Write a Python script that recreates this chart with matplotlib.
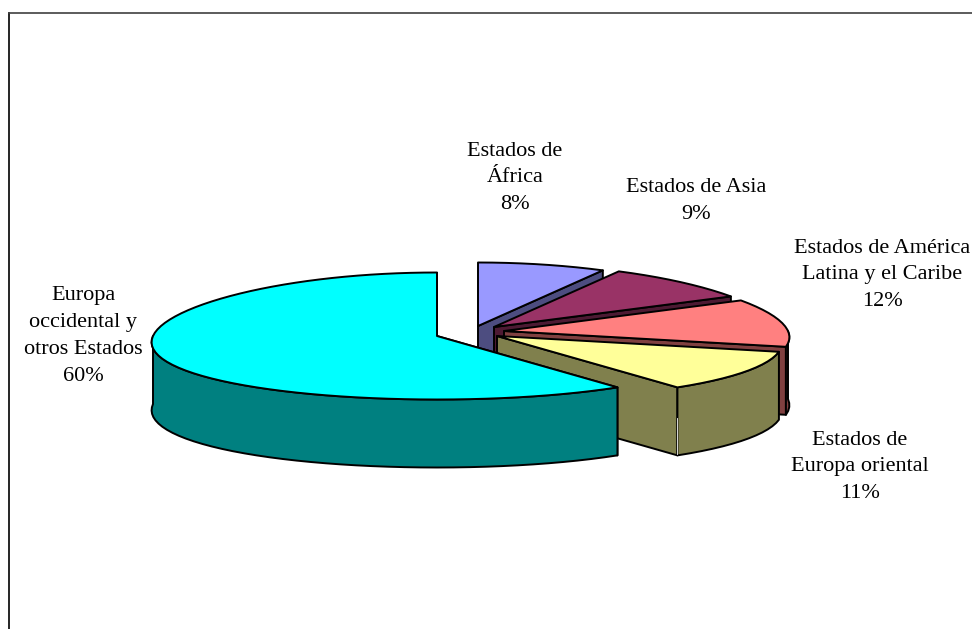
# 3d looking exploded pie chart, drawn by hand since matplotlib pie has no depth

import numpy as np
import matplotlib
matplotlib.use('Agg')
import matplotlib.pyplot as plt
from matplotlib.patches import Polygon

names=['Estados de\nÁfrica','Estados de Asia','Estados de América\nLatina y el Caribe',
       'Estados de\nEuropa oriental','Europa\noccidental y\notros Estados']
values=[8,9,12,11,60]

top_colors=['#9999FF','#993366','#FF8080','#FFFF99','#00FFFF']
side_colors=['#4D4D80','#4D1A33','#804040','#80804D','#008080']

# how far each slice is pulled out of the pie centre (px)
explode_x=[41,57,67,60,0]
explode_y=[-10,-9,-5,0,0]
label_x=[515,696,882,860,83]
label_y=[178,201,275,467,336]

cx,cy=437,336
rx,ry=284,63.5
depth=68
keystone=0.10 # front of the pie is wider than the back

def pt(ox,oy,a):
    # a is degrees clockwise from 12 o'clock
    r=np.radians(a)
    s=1-keystone*np.cos(r)
    return ox+rx*np.sin(r)*s, oy-ry*np.cos(r)

def arc(ox,oy,a,b):
    n=max(2,int(abs(b-a)/3)+1)
    xs,ys=pt(ox,oy,np.linspace(a,b,n))
    return list(zip(xs,ys))

def poly(ax,points,color):
    ax.add_patch(Polygon(points,closed=True,facecolor=color,edgecolor='black',linewidth=1.4,joinstyle='round'))

plt.rcParams['font.family']=['Liberation Serif','DejaVu Serif']

fig=plt.figure(figsize=(9.72,6.29),dpi=100)
ax=fig.add_axes([9/972,0,963/972,616/629])
ax.set_xlim(9,972)
ax.set_ylim(629,13)
ax.set_xticks([])
ax.set_yticks([])
ax.spines['right'].set_visible(False)
ax.spines['bottom'].set_visible(False)
ax.spines['left'].set_linewidth(1.2)
ax.spines['top'].set_linewidth(1.2)
ax.spines['top'].set_color('#404040')

start=0
for i in range(len(values)):
    end=start+values[i]*3.6
    ox=cx+explode_x[i]
    oy=cy+explode_y[i]
    ex,ey=pt(ox,oy,end)
    sx,sy=pt(ox,oy,start)
    # cut faces
    poly(ax,[(ox,oy),(ex,ey),(ex,ey+depth),(ox,oy+depth)],side_colors[i])
    if i==len(values)-1:
        poly(ax,[(ox,oy),(sx,sy),(sx,sy+depth),(ox,oy+depth)],side_colors[i])
    # outer wall, only the front half shows
    a=max(start,90)
    b=min(end,270)
    if a<b:
        rim=arc(ox,oy,a,b)
        low=[(x,y+depth) for x,y in rim]
        poly(ax,rim+low[::-1],side_colors[i])
    if i==3:
        # double line on the corner of the eastern slice
        ax.plot([ex,ex],[ey+depth*0.45,ey+depth-1],color='white',linewidth=0.6,zorder=3)
    # top face
    poly(ax,[(ox,oy)]+arc(ox,oy,start,end),top_colors[i])
    ax.text(label_x[i],label_y[i],names[i]+'\n'+str(values[i])+'%',ha='center',va='center',
            fontsize=16,color='black',linespacing=1.55,zorder=5)
    start=end

fig.savefig('out.png',dpi=100)
plt.close()
